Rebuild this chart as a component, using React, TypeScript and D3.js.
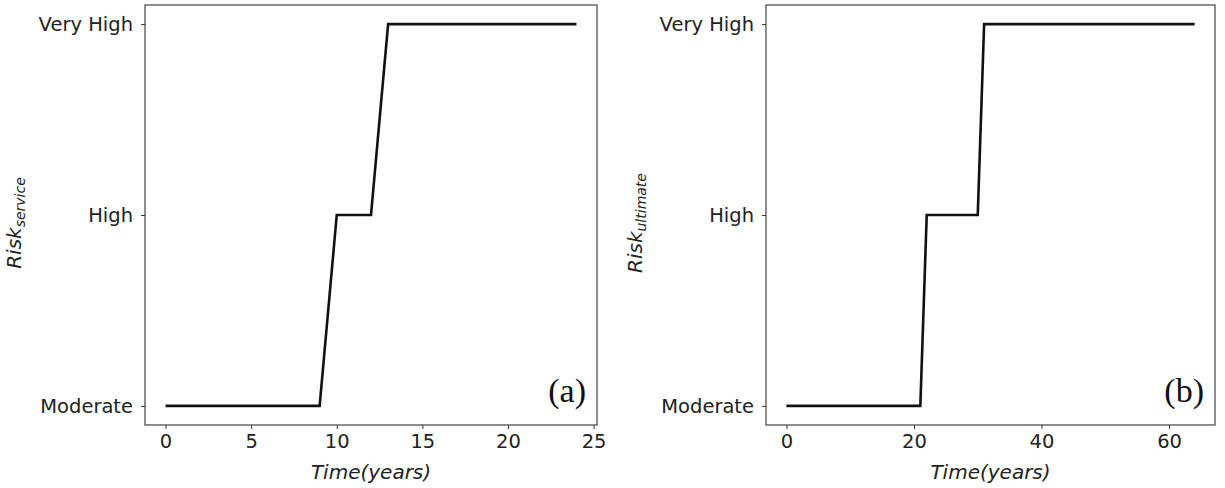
import React, { useEffect, useRef } from "react";
import * as d3 from "d3";

const riskLevels = ["Moderate", "High", "Very High"];

// panel (a): service risk
const serviceYears = [0, 9, 10, 12, 13, 24];
const serviceRisk = [0, 0, 1, 1, 2, 2];
const serviceTicks = [0, 5, 10, 15, 20, 25];

// panel (b): ultimate risk
const ultimateYears = [0, 21, 22, 30, 31, 64];
const ultimateRisk = [0, 0, 1, 1, 2, 2];
const ultimateTicks = [0, 20, 40, 60];

const W = 1225;
const H = 488;

function Panel({ left, right, years, risk, ticks, maxYear, sub, tag }) {
  const gRef = useRef(null);
  const top = 5;
  const bottom = 425;

  useEffect(() => {
    const g = d3.select(gRef.current);
    g.selectAll("*").remove();

    const pad = maxYear * 0.05;
    const x = d3.scaleLinear().domain([-pad, maxYear + pad]).range([left, right]);
    const y = d3.scaleLinear().domain([-0.1, 2.1]).range([bottom, top]);

    const tickFont = "'DejaVu Sans', sans-serif";

    // x axis
    const xAxis = g
      .append("g")
      .attr("transform", `translate(0,${bottom})`)
      .call(d3.axisBottom(x).tickValues(ticks).tickSize(4).tickPadding(5).tickFormat(d3.format("d")));
    xAxis.select(".domain").remove();
    xAxis.selectAll("line").attr("stroke", "#333");
    xAxis.selectAll("text").attr("font-family", tickFont).attr("font-size", 19.5).attr("fill", "#222");

    // y axis
    const yAxis = g
      .append("g")
      .attr("transform", `translate(${left},0)`)
      .call(
        d3
          .axisLeft(y)
          .tickValues([0, 1, 2])
          .tickSize(4)
          .tickPadding(8)
          .tickFormat((d) => riskLevels[d])
      );
    yAxis.select(".domain").remove();
    yAxis.selectAll("line").attr("stroke", "#333");
    yAxis.selectAll("text").attr("font-family", tickFont).attr("font-size", 19.5).attr("fill", "#222");

    // frame
    g.append("rect")
      .attr("x", left)
      .attr("y", top)
      .attr("width", right - left)
      .attr("height", bottom - top)
      .attr("fill", "none")
      .attr("stroke", "#444")
      .attr("stroke-width", 1.2);

    const line = d3
      .line()
      .x((d) => x(d[0]))
      .y((d) => y(d[1]));

    g.append("path")
      .datum(years.map((yr, i) => [yr, risk[i]]))
      .attr("d", line)
      .attr("fill", "none")
      .attr("stroke", "#111")
      .attr("stroke-width", 2.6);

    // x label
    g.append("text")
      .attr("x", (left + right) / 2)
      .attr("y", 479)
      .attr("text-anchor", "middle")
      .attr("font-family", tickFont)
      .attr("font-style", "italic")
      .attr("font-size", 20)
      .attr("fill", "#222")
      .text("Time(years)");

    // y label
    const yl = g
      .append("text")
      .attr("transform", `translate(${left - 124},${(top + bottom) / 2 + 8}) rotate(-90)`)
      .attr("text-anchor", "middle")
      .attr("font-family", tickFont)
      .attr("font-style", "italic")
      .attr("font-size", 20)
      .attr("fill", "#222");
    yl.append("tspan").text("Risk");
    yl.append("tspan").attr("font-size", 14).attr("dy", 4).text(sub);

    // panel tag
    g.append("text")
      .attr("x", right - 11)
      .attr("y", 402)
      .attr("text-anchor", "end")
      .attr("font-family", "'Liberation Serif', 'Times New Roman', serif")
      .attr("font-size", 34)
      .attr("fill", "#111")
      .text(tag);
  }, [left, right, years, risk, ticks, maxYear, sub, tag]);

  return <g ref={gRef} />;
}

export default function App() {
  return (
    <svg
      width={W}
      height={H}
      style={{ position: "absolute", left: 0, top: 0, background: "#fff" }}
    >
      <rect width={W} height={H} fill="#fff" />
      <Panel
        left={145}
        right={597}
        years={serviceYears}
        risk={serviceRisk}
        ticks={serviceTicks}
        maxYear={24}
        sub="service"
        tag="(a)"
      />
      <Panel
        left={766}
        right={1215}
        years={ultimateYears}
        risk={ultimateRisk}
        ticks={ultimateTicks}
        maxYear={64}
        sub="ultimate"
        tag="(b)"
      />
    </svg>
  );
}
